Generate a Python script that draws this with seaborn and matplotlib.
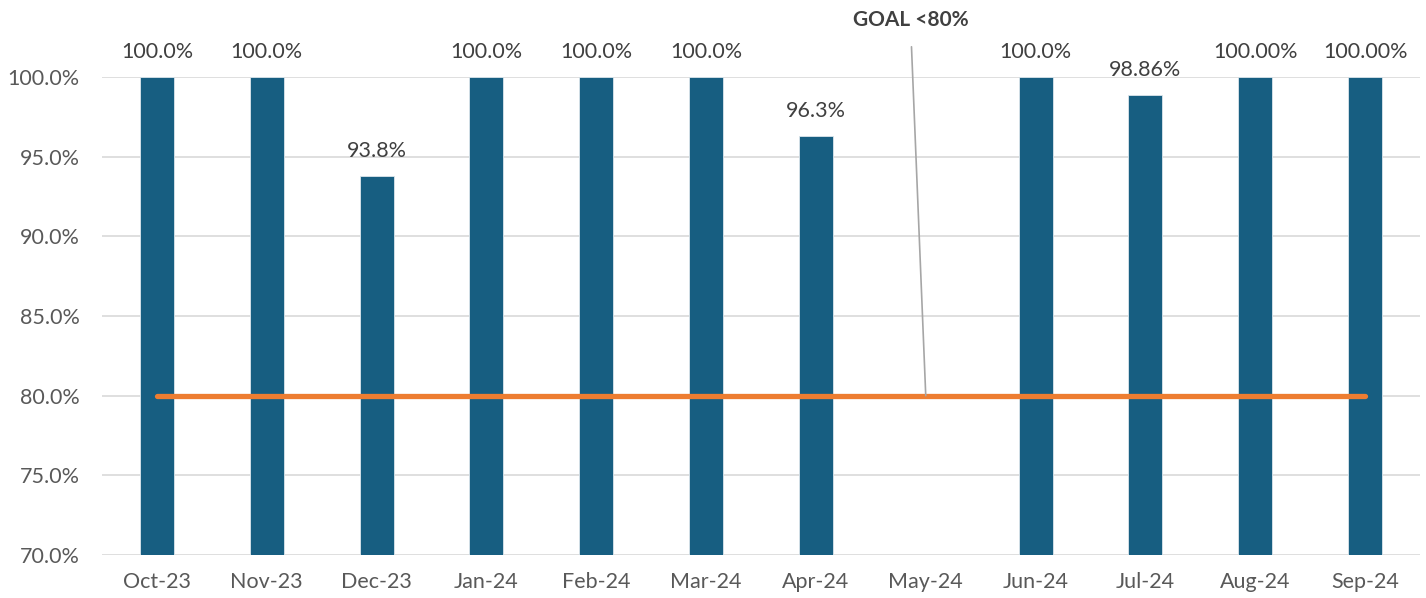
import pandas as pd
import numpy as np
import matplotlib.pyplot as plt
import seaborn as sns

# Monthly compliance data
months = ['Oct-23', 'Nov-23', 'Dec-23', 'Jan-24', 'Feb-24', 'Mar-24',
          'Apr-24', 'May-24', 'Jun-24', 'Jul-24', 'Aug-24', 'Sep-24']
rates = [100.0, 100.0, 93.8, 100.0, 100.0, 100.0, 96.3, np.nan, 100.0, 98.86, 100.0, 100.0]
bar_labels = ['100.0%', '100.0%', '93.8%', '100.0%', '100.0%', '100.0%',
              '96.3%', '', '100.0%', '98.86%', '100.00%', '100.00%']
goal = [80.0] * len(months)
goal_text = 'GOAL <80%'

df = pd.DataFrame({'Month': months, 'Rate': rates, 'Goal': goal})

sns.set_style('white')
plt.rcParams['font.family'] = ['Lato', 'DejaVu Sans']

fig = plt.figure(figsize=(14.26, 5.98), dpi=100)
ax = fig.add_axes([102 / 1426, 1 - 555 / 598, 1318 / 1426, 478 / 598])

sns.barplot(data=df, x='Month', y='Rate', order=months, color='#175E81', saturation=1,
            width=0.31, edgecolor='#DCE6EC', linewidth=0.6, ax=ax, zorder=2)
sns.lineplot(x=np.arange(len(months)), y=df['Goal'], color='#ED7D31',
             linewidth=3.8, ax=ax, zorder=3)

# data labels above the bars
for i, (v, lab) in enumerate(zip(rates, bar_labels)):
    if lab:
        ax.text(i, v + 0.95, lab, ha='center', va='bottom', fontsize=15.5,
                color='#404040', clip_on=False)

# goal callout
ax.annotate(goal_text, xy=(7, 80), xytext=(6.86, 103.6), ha='center', va='center',
            fontsize=15, fontweight='bold', color='#404040',
            arrowprops=dict(arrowstyle='-', color='#A6A6A6', lw=1.2, shrinkA=10, shrinkB=0),
            annotation_clip=False)

ax.set_xlim(-0.5, len(months) - 0.5)
ax.set_ylim(70, 100)
ax.set_yticks(np.arange(70, 100.1, 5))
ax.set_yticklabels([f'{t:.1f}%' for t in np.arange(70, 100.1, 5)])
ax.yaxis.grid(True, color='#D9D9D9', linewidth=1.2, zorder=0)
ax.set_axisbelow(True)
ax.tick_params(axis='both', labelsize=15.5, labelcolor='#595959', length=0)
ax.tick_params(axis='y', pad=16)
ax.tick_params(axis='x', pad=12)
ax.set_xlabel('')
ax.set_ylabel('')
sns.despine(ax=ax, left=True, bottom=True)

fig.savefig('out.png', dpi=100)
